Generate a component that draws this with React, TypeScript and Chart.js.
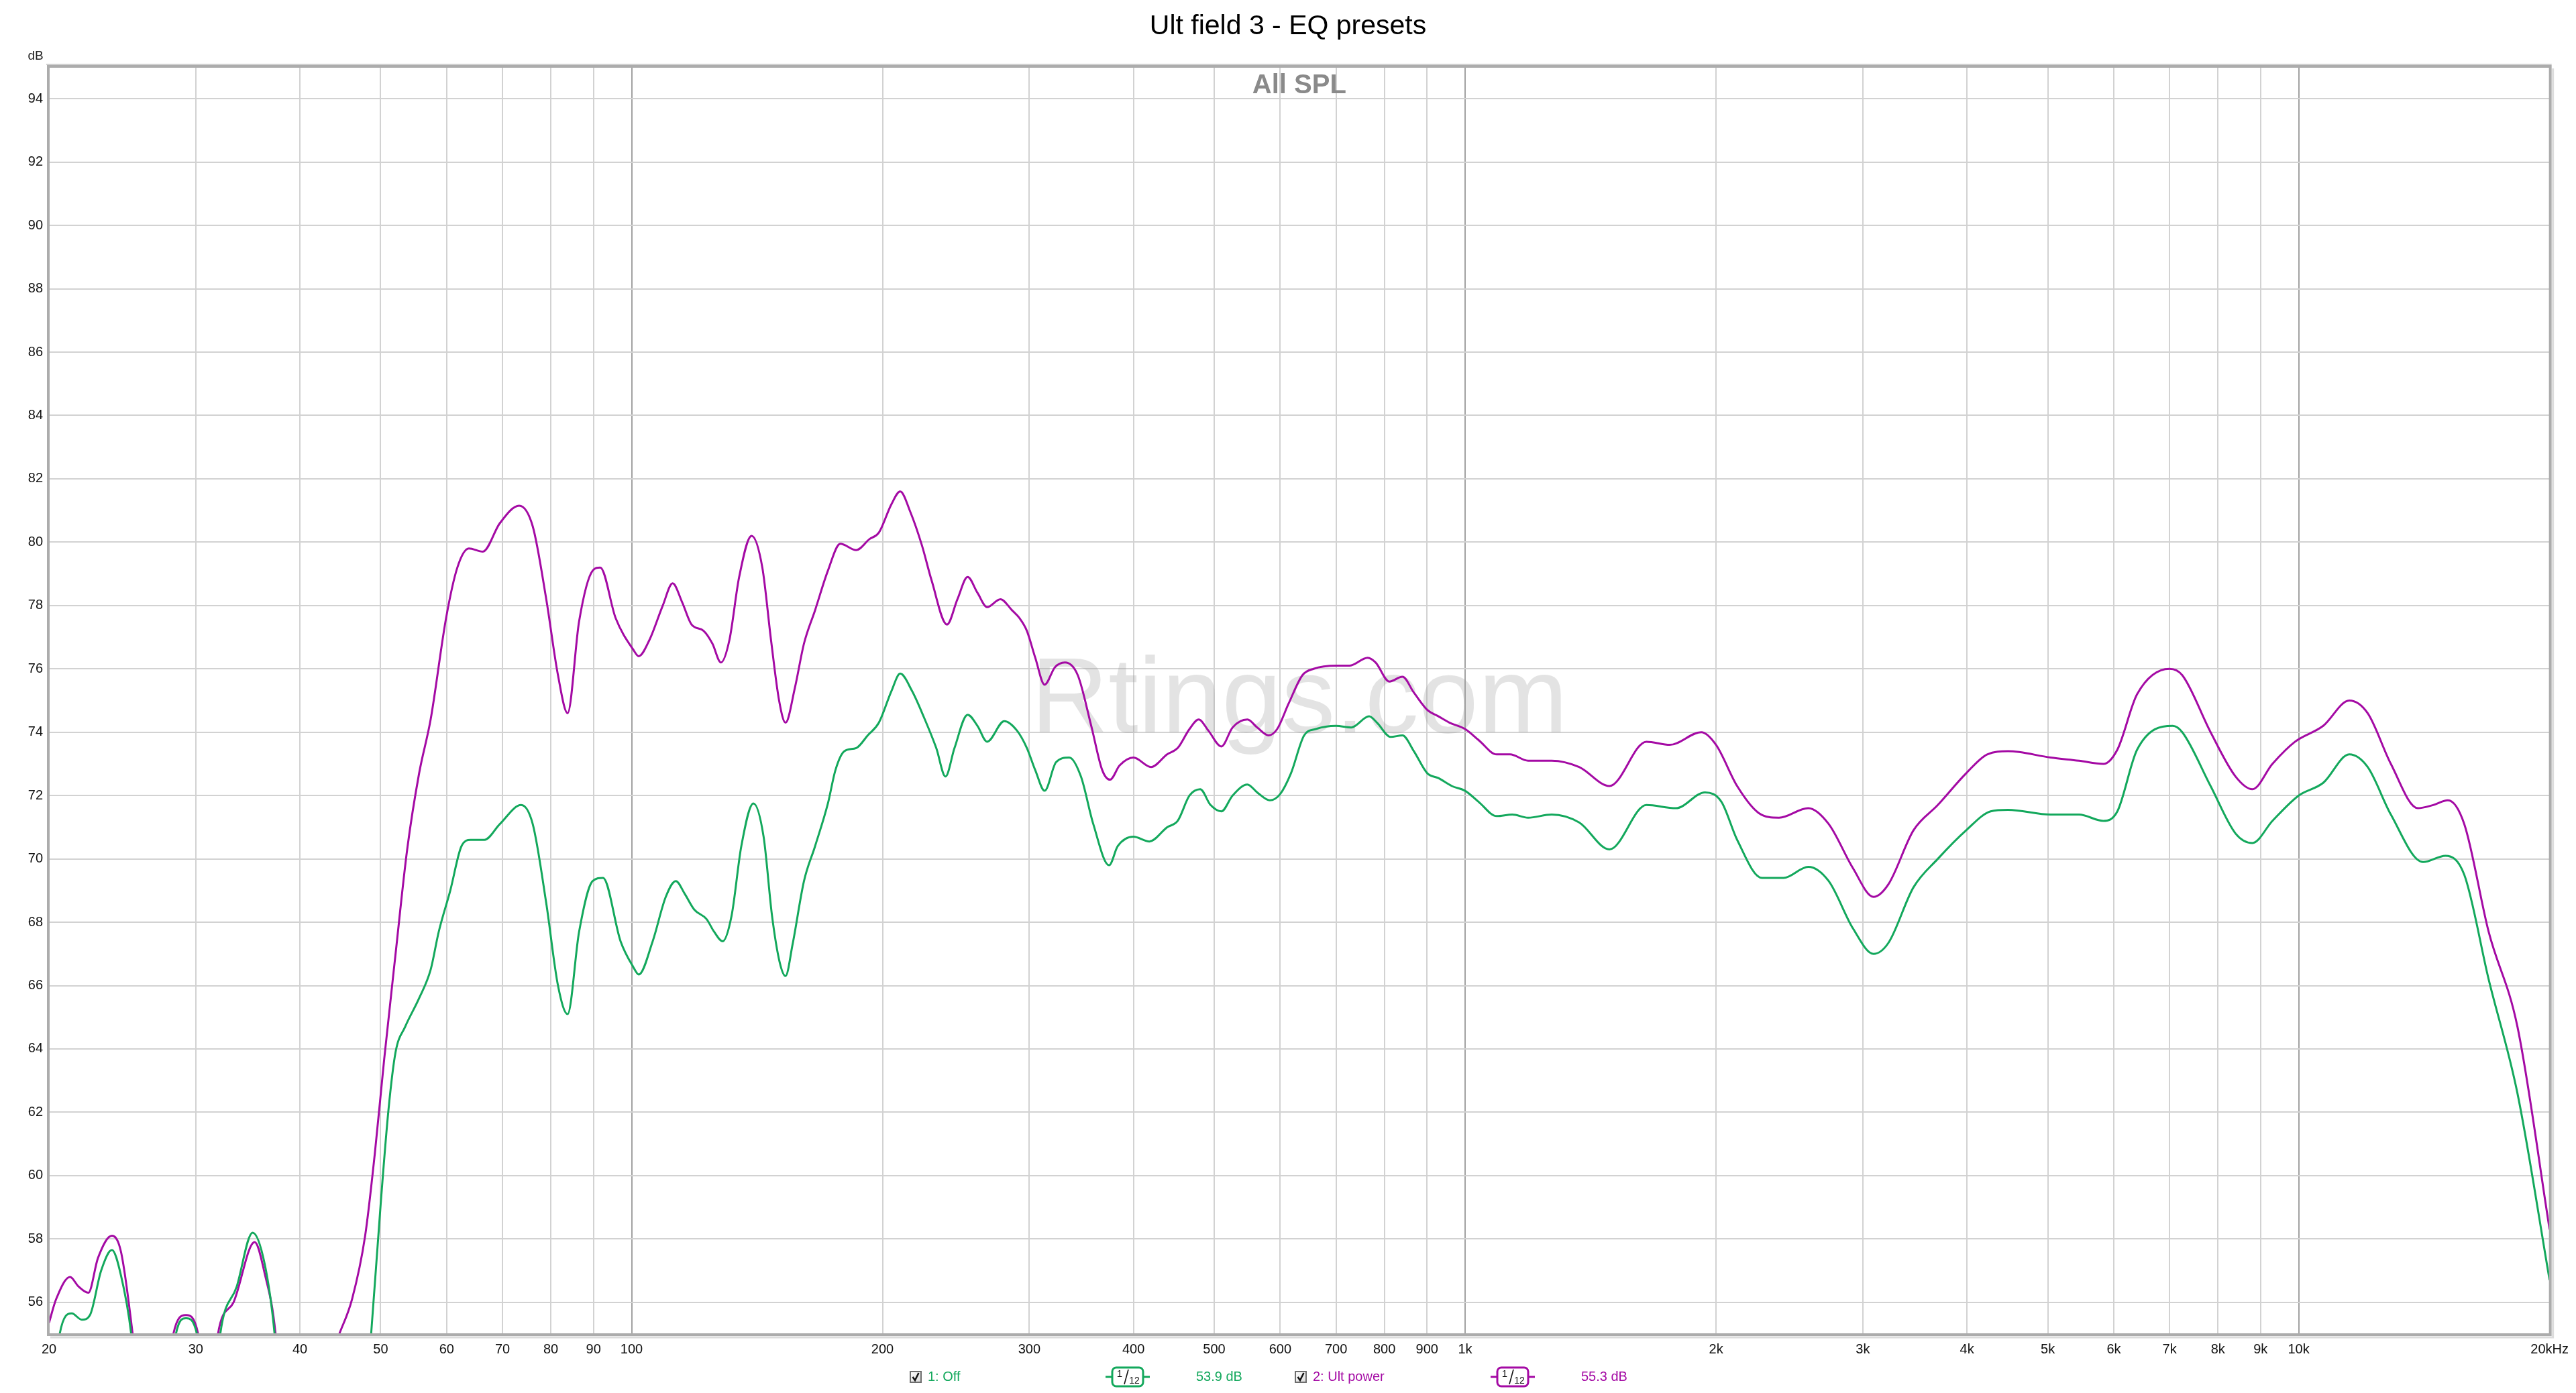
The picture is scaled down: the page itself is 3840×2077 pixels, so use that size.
import React, { useEffect, useRef } from 'react';
import { Chart, registerables } from 'chart.js';

Chart.register(...registerables);

const TITLE = 'Ult field 3 - EQ presets';
const PANEL_LABEL = 'All SPL';
const WATERMARK = 'Rtings.com';
const Y_UNIT = 'dB';

const GREEN = '#13a85c';
const PURPLE = '#a40aa4';

// Series 1: "1: Off"
const freqOff = [
  20.0, 20.6, 21.3, 21.9, 22.4, 23.1, 23.8, 24.4, 25.1, 25.6, 27.8, 28.4, 29.2, 30.1, 30.6, 31.6, 32.1,
  33.6, 35.1, 36.3, 37.3, 37.9, 47.8, 48.7, 50.0, 51.1, 52.1, 53.5, 55.6, 57.4, 58.7, 60.6, 62.5, 64.1,
  66.6, 69.5, 73.7, 76.1, 79.0, 81.6, 83.8, 86.5, 89.8, 92.4, 97.0, 100.4, 102, 106, 109.9, 113, 115.8,
  118.9, 123, 125.6, 128.6, 131.8, 135.4, 140, 144, 147.4, 150.5, 153, 156, 161, 166, 172, 175.6, 180,
  186, 192, 198, 205, 210, 217, 224, 232, 238, 244, 253, 260, 267, 280, 290, 298, 305, 313, 323, 335,
  346, 358, 374, 383, 400, 418, 439, 452, 467, 481, 495, 510, 526, 548, 563, 583, 600, 618, 641, 662,
  700, 730, 767, 784, 814, 841, 868, 901, 929, 964, 1000, 1038, 1091, 1139, 1190, 1270, 1370, 1490,
  1650, 1790, 1940, 2030, 2120, 2270, 2410, 2580, 2730, 2920, 3090, 3220, 3450, 3690, 3990, 4270, 4480,
  5040, 5450, 5830, 6060, 6400, 7060, 7250, 7840, 8400, 8800, 9300, 10000, 10700, 11500, 12100, 12900,
  14100, 15000, 15800, 16900, 18300, 20000,
];
const splOff = [
  52.0, 55.0, 55.65, 55.45, 55.6, 57.0, 57.65, 56.85, 55.0, 52.5, 52.5, 55.0, 55.5, 55.0, 53.0, 53.0, 55.0,
  56.5, 58.2, 57.2, 55.0, 52.5, 52.5, 55.0, 59.1, 62.1, 63.9, 64.7, 65.6, 66.5, 67.7, 69.0, 70.4, 70.6,
  70.6, 71.1, 71.7, 71.1, 68.6, 66.0, 65.1, 67.7, 69.3, 69.4, 67.4, 66.6, 66.35, 67.4, 68.8, 69.3, 68.9,
  68.4, 68.1, 67.7, 67.4, 68.2, 70.4, 71.75, 70.7, 68.2, 66.75, 66.3, 67.3, 69.3, 70.4, 71.75, 72.8, 73.4,
  73.5, 73.9, 74.3, 75.3, 75.85, 75.3, 74.5, 73.5, 72.6, 73.5, 74.55, 74.2, 73.7, 74.35, 74.05, 73.5, 72.8, 72.15, 73.05, 73.2,
  72.6, 71.1, 69.8, 70.4, 70.7, 70.55, 71.0, 71.2, 72.0, 72.2, 71.7, 71.5, 72.0, 72.35, 72.1, 71.85, 72.05, 72.7, 73.9, 74.1,
  74.2, 74.15, 74.5, 74.3, 73.85, 73.9, 73.4, 72.7, 72.55, 72.3, 72.15, 71.8, 71.35, 71.4, 71.3, 71.4, 71.15, 70.3,
  71.7, 71.6, 72.1, 71.8, 70.6, 69.4, 69.4, 69.75, 69.3, 67.8, 67.0, 67.35, 69.1, 70.0, 70.9, 71.5, 71.55,
  71.4, 71.4, 71.2, 71.5, 73.45, 74.2, 74.0, 72.3, 70.8, 70.5, 71.2, 72.0, 72.4, 73.3, 72.9, 71.4,
  69.9, 70.1, 69.5, 66.2, 62.6, 56.7,
];

// Series 2: "2: Ult power"
const freqUlt = [
  20.0, 20.4, 21.2, 21.7, 22.3, 22.9, 23.8, 24.4, 25.2, 25.8, 27.6, 28.2, 29.2, 30.2, 30.7, 31.4, 31.9,
  33.3, 35.3, 36.3, 37.4, 38.0, 41.5, 43.0, 44.6, 46.2, 47.9, 49.2, 50.5, 52.1, 53.8, 55.6, 57.4, 59.9, 61.8,
  63.8, 66.3, 69.5, 73.3, 76.1, 79.0, 81.6, 83.8, 86.5, 89.8, 91.7, 95.7, 100.5, 102, 105, 109, 112, 115,
  118, 122, 125, 128, 131, 134.6, 139.3, 143.5, 147, 150.3, 153, 157, 161, 166, 172, 178, 186, 193, 198,
  205, 210, 216, 223, 229, 239, 246, 253, 260, 267, 277, 286, 292, 298, 305, 313, 322, 331, 343, 356,
  367, 375, 385, 400, 420, 439, 452, 467, 479, 492, 510, 526, 548, 563, 581, 595, 614, 638, 658, 700,
  726, 764, 781, 811, 841, 868, 901, 929, 958, 1000, 1038, 1091, 1132, 1190, 1270, 1370, 1490, 1650,
  1760, 1920, 2000, 2120, 2250, 2380, 2580, 2730, 2920, 3090, 3220, 3450, 3690, 3990, 4230, 4480, 5040,
  5450, 5830, 6060, 6400, 7000, 7250, 7840, 8400, 8800, 9300, 9900, 10700, 11500, 12100, 12900, 13900,
  14500, 15100, 15800, 16900, 18300, 20000,
];
const splUlt = [
  55.35, 56.1, 56.8, 56.5, 56.3, 57.4, 58.1, 57.6, 55.0, 52.5, 52.5, 55.0, 55.6, 55.0, 53.0, 53.0, 55.0,
  56.0, 57.9, 56.9, 55.0, 52.5, 52.5, 53.9, 55.0, 56.1, 58.1, 60.7, 63.7, 67.0, 70.3, 72.7, 74.4, 77.6, 79.2,
  79.8, 79.7, 80.6, 81.15, 80.5, 78.2, 75.8, 74.6, 77.5, 79.1, 79.2, 77.6, 76.6, 76.4, 76.9, 78.0, 78.7, 78.1,
  77.4, 77.2, 76.8, 76.2, 76.9, 78.9, 80.2, 79.2, 76.9, 75.0, 74.3, 75.4, 76.8, 77.85, 79.1, 79.95, 79.75, 80.1, 80.3,
  81.2, 81.6, 80.95, 79.9, 78.8, 77.4, 78.2, 78.9, 78.4, 77.95, 78.2, 77.85, 77.6, 77.2, 76.35, 75.5, 76.05, 76.2, 75.8, 74.2,
  72.8, 72.5, 72.95, 73.2, 72.9, 73.3, 73.5, 74.1, 74.4, 74.05, 73.55, 74.15, 74.4, 74.15, 73.9, 74.1, 74.9, 75.8, 76.0, 76.1,
  76.1, 76.35, 76.2, 75.6, 75.75, 75.25, 74.7, 74.5, 74.3, 74.1, 73.75, 73.3, 73.3, 73.1, 73.1, 72.9, 72.3, 73.7,
  73.6, 74.0, 73.6, 72.3, 71.45, 71.3, 71.6, 71.1, 69.7, 68.8, 69.2, 70.9, 71.7, 72.7, 73.3, 73.4, 73.2,
  73.1, 73.0, 73.45, 75.2, 76.0, 75.8, 74.0, 72.6, 72.2, 73.0, 73.7, 74.2, 75.0, 74.6, 73.0, 71.6,
  71.7, 71.85, 71.1, 67.7, 64.7, 58.3,
];

const xTickValues = [20, 30, 40, 50, 60, 70, 80, 90, 100, 200, 300, 400, 500, 600, 700, 800, 900, 1000,
  2000, 3000, 4000, 5000, 6000, 7000, 8000, 9000, 10000, 20000];
const xTickLabels = ['20', '30', '40', '50', '60', '70', '80', '90', '100', '200', '300', '400', '500', '600',
  '700', '800', '900', '1k', '2k', '3k', '4k', '5k', '6k', '7k', '8k', '9k', '10k', '20kHz'];
const decadeTicks = [100, 1000, 10000];
const yTickValues = [56, 58, 60, 62, 64, 66, 68, 70, 72, 74, 76, 78, 80, 82, 84, 86, 88, 90, 92, 94];

const seriesNames = ['1: Off', '2: Ult power'];
const seriesSmoothing = ['1/12', '1/12'];
const seriesLevels = ['53.9 dB', '55.3 dB'];
const seriesColors = [GREEN, PURPLE];

const FONT = "'Liberation Sans', Arial, sans-serif";

function drawCheckbox(ctx: CanvasRenderingContext2D, x: number, cy: number) {
  const g = ctx.createLinearGradient(x, cy - 9, x + 18, cy + 9);
  g.addColorStop(0, '#ffffff');
  g.addColorStop(1, '#d8d8d8');
  ctx.fillStyle = g;
  ctx.fillRect(x, cy - 9, 18, 18);
  ctx.strokeStyle = '#6e6e6e';
  ctx.lineWidth = 2;
  ctx.strokeRect(x + 1, cy - 8, 16, 16);
  ctx.strokeStyle = '#111';
  ctx.lineWidth = 2.5;
  ctx.beginPath();
  ctx.moveTo(x + 4.5, cy);
  ctx.lineTo(x + 8, cy + 5);
  ctx.lineTo(x + 13.5, cy - 6);
  ctx.stroke();
}

function drawBadge(ctx: CanvasRenderingContext2D, cx: number, cy: number, color: string, label: string) {
  const w = 46;
  const h = 28;
  ctx.strokeStyle = color;
  ctx.lineWidth = 3;
  ctx.beginPath();
  ctx.moveTo(cx - w / 2 - 10, cy);
  ctx.lineTo(cx - w / 2, cy);
  ctx.moveTo(cx + w / 2, cy);
  ctx.lineTo(cx + w / 2 + 10, cy);
  ctx.stroke();
  ctx.beginPath();
  const r = 6;
  const x0 = cx - w / 2;
  const y0 = cy - h / 2;
  ctx.moveTo(x0 + r, y0);
  ctx.arcTo(x0 + w, y0, x0 + w, y0 + h, r);
  ctx.arcTo(x0 + w, y0 + h, x0, y0 + h, r);
  ctx.arcTo(x0, y0 + h, x0, y0, r);
  ctx.arcTo(x0, y0, x0 + w, y0, r);
  ctx.closePath();
  ctx.fillStyle = '#ffffff';
  ctx.fill();
  ctx.stroke();
  const parts = label.split('/');
  ctx.fillStyle = '#111';
  ctx.textBaseline = 'middle';
  ctx.textAlign = 'center';
  ctx.font = `15px ${FONT}`;
  ctx.fillText(parts[0], cx - 12, cy - 4);
  ctx.font = `14px ${FONT}`;
  ctx.fillText(parts[1] || '', cx + 10, cy + 6);
  ctx.strokeStyle = '#111';
  ctx.lineWidth = 1.6;
  ctx.beginPath();
  ctx.moveTo(cx - 5, cy + 11);
  ctx.lineTo(cx + 1, cy - 11);
  ctx.stroke();
}

const decorPlugin = {
  id: 'rewDecor',
  beforeDatasetsDraw(chart: any) {
    const { ctx, chartArea } = chart;
    const cx = (chartArea.left + chartArea.right) / 2;
    ctx.save();
    ctx.font = `160px ${FONT}`;
    ctx.fillStyle = 'rgba(150,150,150,0.27)';
    ctx.textAlign = 'center';
    ctx.textBaseline = 'alphabetic';
    ctx.fillText(WATERMARK, cx, 1092);
    ctx.font = `bold 40px ${FONT}`;
    ctx.fillStyle = '#8a8a8a';
    ctx.textBaseline = 'middle';
    ctx.fillText(PANEL_LABEL, cx, 128);
    ctx.restore();
  },
  afterDraw(chart: any) {
    const { ctx, chartArea, width } = chart;
    const { left, right, top, bottom } = chartArea;
    ctx.save();
    // frame with soft shadow
    ctx.strokeStyle = '#dcdcdc';
    ctx.lineWidth = 3;
    ctx.beginPath();
    ctx.moveTo(left + 2, bottom + 5);
    ctx.lineTo(right + 5, bottom + 5);
    ctx.lineTo(right + 5, top + 2);
    ctx.stroke();
    ctx.strokeStyle = '#acacac';
    ctx.lineWidth = 4;
    ctx.strokeRect(left - 1, top - 1, right - left + 2, bottom - top + 2);
    ctx.strokeStyle = '#d0d0d0';
    ctx.lineWidth = 2;
    ctx.beginPath();
    ctx.moveTo(left - 4, top - 4);
    ctx.lineTo(right + 3, top - 4);
    ctx.stroke();

    // title (centred on the whole canvas)
    ctx.fillStyle = '#000';
    ctx.font = `41px ${FONT}`;
    ctx.textAlign = 'center';
    ctx.textBaseline = 'middle';
    ctx.fillText(TITLE, width / 2, 40);

    // unit label
    ctx.font = `19px ${FONT}`;
    ctx.fillStyle = '#222';
    ctx.fillText(Y_UNIT, 53, 84);

    // legend
    const ly = 2053;
    const starts = [1356, 1930];
    for (let i = 0; i < seriesNames.length; i++) {
      const sx = starts[i];
      drawCheckbox(ctx, sx, ly);
      ctx.font = `20px ${FONT}`;
      ctx.fillStyle = seriesColors[i];
      ctx.textAlign = 'left';
      ctx.textBaseline = 'middle';
      ctx.fillText(seriesNames[i], sx + 27, ly);
      drawBadge(ctx, sx + 325, ly, seriesColors[i], seriesSmoothing[i]);
      ctx.font = `20px ${FONT}`;
      ctx.fillStyle = seriesColors[i];
      ctx.textAlign = 'left';
      ctx.textBaseline = 'middle';
      ctx.fillText(seriesLevels[i], sx + 427, ly);
    }
    ctx.restore();
  },
};

export default function App() {
  const canvasRef = useRef<HTMLCanvasElement | null>(null);

  useEffect(() => {
    document.body.style.margin = '0';
    document.body.style.overflow = 'hidden';
    const canvas = canvasRef.current;
    if (!canvas) return;

    const chart = new Chart(canvas, {
      type: 'line',
      data: {
        datasets: [
          {
            label: seriesNames[0],
            data: freqOff.map((f, i) => ({ x: f, y: splOff[i] })),
            borderColor: GREEN,
            borderWidth: 3,
            pointRadius: 0,
            fill: false,
            cubicInterpolationMode: 'monotone',
          },
          {
            label: seriesNames[1],
            data: freqUlt.map((f, i) => ({ x: f, y: splUlt[i] })),
            borderColor: PURPLE,
            borderWidth: 3,
            pointRadius: 0,
            fill: false,
            cubicInterpolationMode: 'monotone',
          },
        ],
      },
      options: {
        responsive: false,
        animation: false,
        devicePixelRatio: 1,
        events: [],
        layout: { padding: { top: 100, right: 36, left: 0, bottom: 0 } },
        plugins: {
          legend: { display: false },
          title: { display: false },
          tooltip: { enabled: false },
        },
        scales: {
          x: {
            type: 'logarithmic',
            min: 20,
            max: 20000,
            afterBuildTicks: (scale: any) => {
              scale.ticks = xTickValues.map((v) => ({ value: v }));
            },
            afterFit: (scale: any) => {
              scale.height = 88;
            },
            border: { display: false },
            grid: {
              drawTicks: false,
              lineWidth: 2,
              color: (c: any) => (decadeTicks.includes(c.tick?.value) ? '#a2a2a2' : '#d2d2d2'),
            },
            ticks: {
              autoSkip: false,
              maxRotation: 0,
              minRotation: 0,
              padding: 11,
              color: '#111',
              font: { family: FONT, size: 20 },
              callback: (value: any) => {
                const i = xTickValues.indexOf(Number(value));
                return i >= 0 ? xTickLabels[i] : '';
              },
            },
          },
          y: {
            type: 'linear',
            min: 55,
            max: 95,
            afterBuildTicks: (scale: any) => {
              scale.ticks = yTickValues.map((v) => ({ value: v }));
            },
            afterFit: (scale: any) => {
              scale.width = 73;
            },
            border: { display: false },
            grid: {
              drawTicks: false,
              lineWidth: 2,
              color: '#d2d2d2',
            },
            ticks: {
              autoSkip: false,
              padding: 9,
              color: '#111',
              font: { family: FONT, size: 20 },
              callback: (value: any) => String(value),
            },
          },
        },
      },
      plugins: [decorPlugin],
    } as any);

    return () => {
      chart.destroy();
    };
  }, []);

  return (
    <div style={{ width: 3840, height: 2077, background: '#fff' }}>
      <canvas ref={canvasRef} width={3840} height={2077} style={{ display: 'block' }} />
    </div>
  );
}
